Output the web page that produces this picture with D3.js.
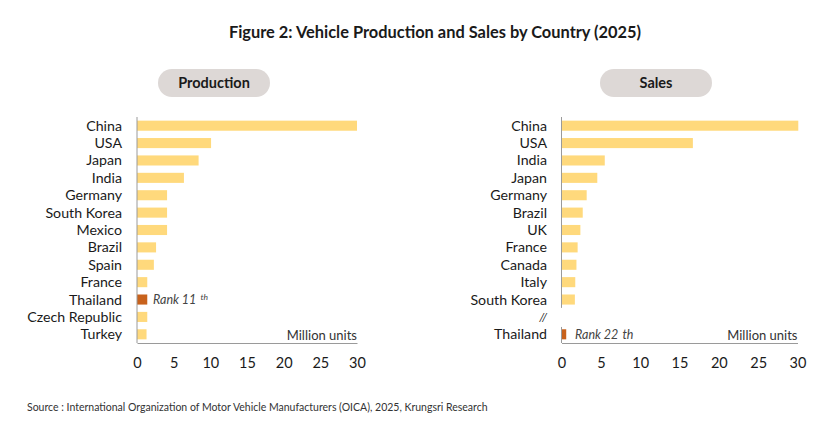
<!DOCTYPE html>
<html>
<head>
<meta charset="utf-8">
<script src="https://cdn.jsdelivr.net/npm/d3@7/dist/d3.min.js"></script>
<style>
  html, body { margin: 0; padding: 0; background: #fff; }
  svg { display: block; font-family: Lato, "Open Sans", sans-serif; }
</style>
</head>
<body>
<svg id="chart" width="840" height="439"></svg>
<script>
// ---- Data ----
const prodCountries = ["China","USA","Japan","India","Germany","South Korea","Mexico","Brazil","Spain","France","Thailand","Czech Republic","Turkey"];
const prodValues    = [30.0, 10.1, 8.4, 6.4, 4.1, 4.1, 4.1, 2.6, 2.3, 1.4, 1.4, 1.4, 1.3];

const salesCountries = ["China","USA","India","Japan","Germany","Brazil","UK","France","Canada","Italy","South Korea","//","Thailand"];
const salesValues    = [30.1, 16.7, 5.5, 4.55, 3.2, 2.7, 2.4, 2.05, 1.9, 1.75, 1.7, null, 0.6];

const xTicks = [0, 5, 10, 15, 20, 25, 30];
const highlight = "Thailand";

const titleText = "Figure 2: Vehicle Production and Sales by Country (2025)";
const sourceText = "Source : International Organization of Motor Vehicle Manufacturers (OICA), 2025, Krungsri Research";

// ---- Styles ----
const barColor = "#FFD97C";
const hiColor = "#C8621C";
const axisColor = "#9a9a9a";
const textColor = "#1a1a1a";

const svg = d3.select("#chart");

svg.append("text")
  .attr("x", 435).attr("y", 38)
  .attr("text-anchor", "middle")
  .attr("font-size", 16.4).attr("font-weight", 700)
  .attr("fill", textColor)
  .text(titleText);

svg.append("text")
  .attr("x", 27).attr("y", 411)
  .attr("font-size", 10.5)
  .attr("fill", "#333")
  .text(sourceText);

function panel(cfg) {
  const g = svg.append("g");
  const x = d3.scaleLinear().domain([0, 30]).range([cfg.x0, cfg.x1]);
  const y = d3.scaleBand().domain(cfg.cats).range([117, 343]).paddingInner(0.42).paddingOuter(0.21);

  // pill label
  g.append("rect")
    .attr("x", cfg.pillX).attr("y", 69).attr("width", 112).attr("height", 28)
    .attr("rx", 14).attr("fill", "#DDD8D6");
  g.append("text")
    .attr("x", cfg.pillX + 56).attr("y", 88)
    .attr("text-anchor", "middle")
    .attr("font-size", 14.5).attr("font-weight", 700).attr("fill", textColor)
    .text(cfg.name);

  // bars
  const data = cfg.cats.map((c, i) => ({ c, v: cfg.vals[i] })).filter(d => d.v != null);
  g.selectAll("rect.bar").data(data).join("rect")
    .attr("class", "bar")
    .attr("x", x(0))
    .attr("y", d => y(d.c))
    .attr("width", d => x(d.v) - x(0))
    .attr("height", y.bandwidth())
    .attr("fill", d => d.c === highlight ? hiColor : barColor);

  // category labels
  g.selectAll("text.cat").data(cfg.cats).join("text")
    .attr("class", "cat")
    .attr("x", cfg.labelX)
    .attr("y", d => y(d) + y.bandwidth() / 2)
    .attr("dy", "0.35em")
    .attr("text-anchor", "end")
    .attr("font-size", d => d === "//" ? 12 : 14.2)
    .attr("font-style", d => d === "//" ? "italic" : "normal")
    .attr("fill", textColor)
    .text(d => d);

  // vertical axis line (with optional break)
  if (cfg.breakAt) {
    const yb = y(cfg.breakAt);
    g.append("line").attr("x1", x(0)).attr("x2", x(0)).attr("y1", 117).attr("y2", yb - 4)
      .attr("stroke", axisColor).attr("stroke-width", 1);
    g.append("line").attr("x1", x(0)).attr("x2", x(0)).attr("y1", yb + y.bandwidth() + 5).attr("y2", 343)
      .attr("stroke", axisColor).attr("stroke-width", 1);
  } else {
    g.append("line").attr("x1", x(0)).attr("x2", x(0)).attr("y1", 117).attr("y2", 343)
      .attr("stroke", axisColor).attr("stroke-width", 1);
  }

  // x axis
  const ax = g.append("g").attr("transform", "translate(0,343)")
    .call(d3.axisBottom(x).tickValues(xTicks).tickSize(0).tickPadding(15).tickFormat(d3.format("d")));
  ax.select(".domain").attr("stroke", axisColor);
  ax.selectAll("text").attr("font-size", 14.5).attr("fill", textColor)
    .attr("font-family", "Lato, 'Open Sans', sans-serif");

  // unit label
  g.append("text")
    .attr("x", x(30)).attr("y", 340)
    .attr("text-anchor", "end")
    .attr("font-size", 13).attr("fill", "#333")
    .text("Million units");

  // rank note
  const t = g.append("text")
    .attr("x", cfg.rankX)
    .attr("y", y(highlight) + y.bandwidth() / 2)
    .attr("dy", "0.35em")
    .attr("font-size", 12.5).attr("font-style", "italic").attr("fill", "#444");
  t.append("tspan").text(cfg.rankMain);
  if (cfg.rankSup) {
    t.append("tspan").attr("dx", 4).attr("dy", "-0.45em").attr("font-size", 8.5).text(cfg.rankSup);
  } else {
    t.append("tspan").attr("dx", 4).text("th");
  }
}

panel({
  name: "Production", cats: prodCountries, vals: prodValues,
  x0: 137, x1: 357, labelX: 122, pillX: 158,
  rankX: 153, rankMain: "Rank 11", rankSup: "th"
});

panel({
  name: "Sales", cats: salesCountries, vals: salesValues,
  x0: 561.5, x1: 797.5, labelX: 547, pillX: 600,
  breakAt: "//", rankX: 575, rankMain: "Rank 22", rankSup: null
});
</script>
</body>
</html>
